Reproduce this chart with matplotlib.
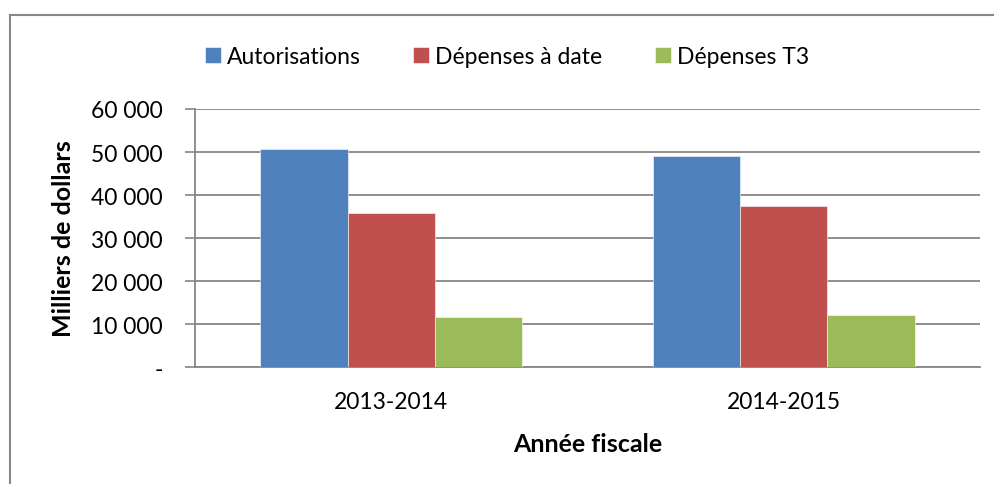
import numpy as np
import matplotlib.pyplot as plt
from matplotlib.ticker import FuncFormatter
from matplotlib.lines import Line2D

plt.rcParams['font.family'] = ['Lato', 'DejaVu Sans']

# données
annees = ['2013-2014', '2014-2015']
autorisations = [50700, 49000]
depenses_date = [35800, 37400]
depenses_t3 = [11600, 12000]

series = ['Autorisations', 'Dépenses à date', 'Dépenses T3']
couleurs = ['#4F81BD', '#C0504D', '#9BBB59']

fig = plt.figure(figsize=(9.94, 4.85), dpi=100)
ax = fig.add_axes([0.1962, 0.2412, 0.7897, 0.532])

x = np.arange(len(annees))
larg = 1 / 4.5
for i, (vals, nom, c) in enumerate(zip([autorisations, depenses_date, depenses_t3], series, couleurs)):
    ax.bar(x + (i - 1) * larg, vals, width=larg, color=c, label=nom,
           edgecolor='white', linewidth=0.4, zorder=3)

ax.set_xlim(-0.5, 1.5)
ax.set_ylim(0, 60000)
ax.set_yticks(range(0, 60001, 10000))


def fmt(v, pos):
    if v == 0:
        return '-'
    return f'{int(v):,}'.replace(',', ' ')


ax.yaxis.set_major_formatter(FuncFormatter(fmt))
ax.set_xticks(x)
ax.set_xticklabels(annees)
ax.tick_params(axis='y', length=7, width=1.2, color='#868686', pad=16, labelsize=16.5)
ax.tick_params(axis='x', length=0, pad=17, labelsize=16.5)
ax.grid(axis='y', color='#868686', linewidth=1.3, zorder=0)

for s in ['top', 'right']:
    ax.spines[s].set_visible(False)
for s in ['left', 'bottom']:
    ax.spines[s].set_color('#868686')
    ax.spines[s].set_linewidth(1.3)

ax.set_ylabel('Milliers de dollars', fontsize=18, fontweight='bold', labelpad=12)
ax.set_xlabel('Année fiscale', fontsize=18, fontweight='bold', labelpad=15)

fig.legend(loc='center', bbox_to_anchor=(0.51, 0.882), ncol=3, frameon=False,
           fontsize=16.5, handlelength=0.7, handleheight=0.7, handletextpad=0.25,
           columnspacing=2.3)

# cadre du graphique
fig.add_artist(Line2D([10 / 994, 1], [1 - 16 / 485] * 2, color='#888888', linewidth=1.5))
fig.add_artist(Line2D([10 / 994] * 2, [0, 1 - 16 / 485], color='#888888', linewidth=1.5))

fig.savefig('out.png', dpi=100)
